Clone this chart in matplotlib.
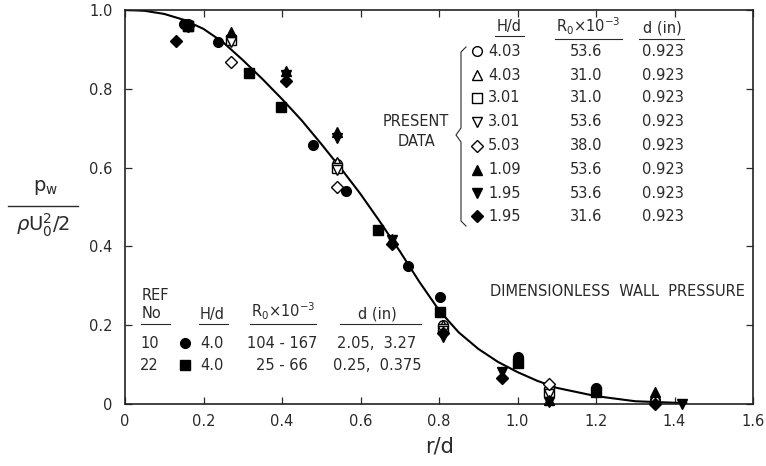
import matplotlib
matplotlib.use('Agg')
import matplotlib.pyplot as plt
from matplotlib.lines import Line2D

plt.rcParams['font.family'] = ['DejaVu Sans']
plt.rcParams['mathtext.fontset'] = 'dejavusans'

W, H = 766, 466
ink = '#2a2a2a'

# fitted curve
curve_r = [0, 0.05, 0.10, 0.15, 0.20, 0.25, 0.30, 0.35, 0.40, 0.45, 0.50, 0.55, 0.60,
           0.65, 0.70, 0.75, 0.80, 0.85, 0.90, 0.95, 1.00, 1.05, 1.10, 1.20, 1.30, 1.43]
curve_p = [1.0, 0.998, 0.99, 0.975, 0.952, 0.918, 0.873, 0.825, 0.774, 0.72, 0.66, 0.598, 0.533,
           0.462, 0.388, 0.31, 0.238, 0.182, 0.14, 0.107, 0.081, 0.059, 0.041, 0.02, 0.007, 0.002]

# present data
open_circle_r = [0.16, 0.27, 0.54, 0.81, 1.08, 1.35]
open_circle_p = [0.965, 0.93, 0.61, 0.20, 0.03, 0.01]
open_tri_r = [0.16, 0.27, 0.54, 0.81, 1.08, 1.35]
open_tri_p = [0.965, 0.935, 0.615, 0.20, 0.035, 0.02]
open_sq_r = [0.16, 0.27, 0.54, 0.81, 1.08]
open_sq_p = [0.96, 0.925, 0.60, 0.19, 0.03]
open_tridn_r = [0.16, 0.27, 0.54, 0.81, 1.08]
open_tridn_p = [0.96, 0.92, 0.595, 0.185, 0.025]
open_dia_r = [0.27, 0.54, 1.08]
open_dia_p = [0.867, 0.552, 0.05]
fill_tri_r = [0.27, 0.41, 0.54, 0.68, 1.08, 1.35]
fill_tri_p = [0.945, 0.845, 0.69, 0.42, 0.01, 0.031]
fill_tridn_r = [0.41, 0.54, 0.68, 0.81, 0.96, 1.08, 1.42]
fill_tridn_p = [0.835, 0.675, 0.415, 0.17, 0.08, 0.005, 0.0]
fill_dia_r = [0.13, 0.16, 0.41, 0.68, 0.81, 0.96, 1.35]
fill_dia_p = [0.922, 0.96, 0.82, 0.405, 0.18, 0.065, 0.0]

# reference data
ref10_r = [0.15, 0.237, 0.479, 0.562, 0.721, 0.802, 1.0, 1.2]
ref10_p = [0.965, 0.92, 0.657, 0.541, 0.349, 0.271, 0.12, 0.04]
ref22_r = [0.16, 0.317, 0.398, 0.644, 0.802, 1.0, 1.2]
ref22_p = [0.96, 0.84, 0.755, 0.442, 0.234, 0.105, 0.03]

present_hd = ['4.03', '4.03', '3.01', '3.01', '5.03', '1.09', '1.95', '1.95']
present_r0 = ['53.6', '31.0', '31.0', '53.6', '38.0', '53.6', '53.6', '31.6']
present_d = ['0.923'] * 8
present_mk = [('o', 'white'), ('^', 'white'), ('s', 'white'), ('v', 'white'),
              ('D', 'white'), ('^', 'black'), ('v', 'black'), ('D', 'black')]

ref_no = ['10', '22']
ref_mk = [('o', 'black'), ('s', 'black')]
ref_hd = ['4.0', '4.0']
ref_r0 = ['104 - 167', '25 - 66']
ref_d = ['2.05,  3.27', '0.25,  0.375']

fig = plt.figure(figsize=(W / 100, H / 100), dpi=100)
ax = fig.add_axes([125 / W, 1 - 404 / H, 628 / W, 394 / H])

ax.plot(curve_r, curve_p, color='black', lw=1.5, zorder=2)

series = [(open_circle_r, open_circle_p, 'o', 'white'),
          (open_tri_r, open_tri_p, '^', 'white'),
          (open_sq_r, open_sq_p, 's', 'white'),
          (open_tridn_r, open_tridn_p, 'v', 'white'),
          (open_dia_r, open_dia_p, 'D', 'white'),
          (ref10_r, ref10_p, 'o', 'black'),
          (ref22_r, ref22_p, 's', 'black'),
          (fill_tri_r, fill_tri_p, '^', 'black'),
          (fill_tridn_r, fill_tridn_p, 'v', 'black'),
          (fill_dia_r, fill_dia_p, 'D', 'black')]
for r, p, m, fc in series:
    ms = 6 if m == 'D' else 7
    ax.plot(r, p, ls='none', marker=m, ms=ms, mfc=fc, mec='black', mew=1.0, zorder=3,
            clip_on=False)

ax.set_xlim(0, 1.6)
ax.set_ylim(0, 1.0)
ax.set_xticks([0, 0.2, 0.4, 0.6, 0.8, 1.0, 1.2, 1.4, 1.6])
ax.set_xticklabels(['0', '0.2', '0.4', '0.6', '0.8', '1.0', '1.2', '1.4', '1.6'])
ax.set_yticks([0, 0.2, 0.4, 0.6, 0.8, 1.0])
ax.set_yticklabels(['0', '0.2', '0.4', '0.6', '0.8', '1.0'])
ax.tick_params(direction='in', length=5, width=0.9, top=True, right=True,
               labelsize=10.5, colors=ink, pad=7)
ax.tick_params(axis='y', pad=9)
for s in ax.spines.values():
    s.set_linewidth(1.2)
    s.set_color('#222')


def ftext(px, py, s, **kw):
    kw.setdefault('fontsize', 10.5)
    kw.setdefault('color', ink)
    kw.setdefault('va', 'center')
    fig.text(px / W, 1 - py / H, s, **kw)


def fline(xs, ys, lw=0.8):
    fig.add_artist(Line2D([x / W for x in xs], [1 - y / H for y in ys], color=ink, lw=lw))


def fmark(px, py, m, fc):
    ms = 6 if m == 'D' else 7
    fig.add_artist(Line2D([px / W], [1 - py / H], ls='none', marker=m, ms=ms,
                          mfc=fc, mec='black', mew=1.0))


# axis labels
ftext(440, 446, 'r/d', fontsize=15, ha='center')
ftext(46, 188, r'p$_\mathrm{w}$', fontsize=14, ha='center')
fline([8, 78], [206, 206], lw=1.0)
ftext(43, 225, r'$\rho$U$_0^2$/2', fontsize=14, ha='center')

# present data table
ftext(509, 27, 'H/d', ha='center')
ftext(588, 26, r'R$_0$×10$^{-3}$', ha='center')
ftext(662, 28, 'd (in)', ha='center')
fline([495, 524], [36, 36])
fline([555, 622], [39, 39])
fline([639, 684], [39, 39])
row_y = [51, 75, 98, 122, 146, 170, 193, 216]
for i in range(8):
    y = row_y[i]
    fmark(477, y, present_mk[i][0], present_mk[i][1])
    ftext(488, y, present_hd[i], ha='left')
    ftext(586, y, present_r0[i], ha='center')
    ftext(663, y, present_d[i], ha='center')
ftext(416, 121, 'PRESENT', ha='center')
ftext(416, 142, 'DATA', ha='center')
fline([466, 461, 461, 456, 461, 461, 466], [47, 52, 128, 135, 142, 221, 226])

ftext(745, 291, 'DIMENSIONLESS  WALL  PRESSURE', ha='right')

# reference table
ftext(142, 296, 'REF', ha='left')
ftext(142, 314, 'No', ha='left')
ftext(212, 314, 'H/d', ha='center')
ftext(283, 311, r'R$_0$×10$^{-3}$', ha='center')
ftext(377, 314, 'd (in)', ha='center')
fline([141, 170], [324, 324])
fline([199, 228], [324, 324])
fline([250, 316], [324, 324])
fline([340, 421], [324, 324])
for i, y in enumerate([343, 365]):
    ftext(159, y, ref_no[i], ha='right')
    fmark(185, y, ref_mk[i][0], ref_mk[i][1])
    ftext(212, y, ref_hd[i], ha='center')
    ftext(282, y, ref_r0[i], ha='center')
    ftext(377, y, ref_d[i], ha='center')

fig.savefig('out.png', dpi=100)
